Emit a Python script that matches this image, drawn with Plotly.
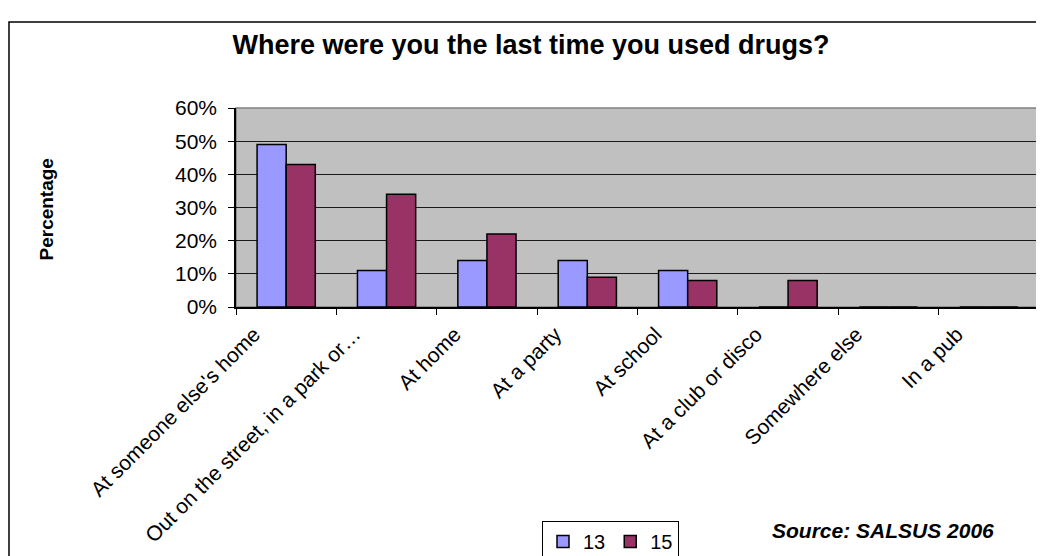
import plotly.graph_objects as go

categories = ["At someone else's home", "Out on the street, in a park or\u2026", "At home",
              "At a party", "At school", "At a club or disco", "Somewhere else", "In a pub"]
age13 = [49, 11, 14, 14, 11, 0, 0, 0]
age15 = [43, 34, 22, 9, 8, 8, 0, 0]
series_names = ["13", "15"]
y_ticks = [0, 10, 20, 30, 40, 50, 60]
y_tick_labels = [f"{v}%" for v in y_ticks]

# The page body adds an 8px margin, so the figure is sized to fit the window.
OFF = 8
W, H = 1044 - OFF, 556 - OFF
L, T = 236 - OFF, 108 - OFF
R = W - (1039 - OFF)
B = H - (307 - OFF)
pw, ph = W - L - R, H - T - B


def px(x):  # reference-screen x -> paper x
    return (x - OFF - L) / pw


def py(y):  # reference-screen y -> paper y
    return (H - B - (y - OFF)) / ph


FONT = "Liberation Sans, Arial, sans-serif"

fig = go.Figure()
fig.add_trace(go.Bar(x=categories, y=age13, name=series_names[0],
                     marker=dict(color="#9999FF", line=dict(color="black", width=1.5))))
fig.add_trace(go.Bar(x=categories, y=age15, name=series_names[1],
                     marker=dict(color="#993366", line=dict(color="black", width=1.5))))

fig.update_layout(
    width=W, height=H,
    margin=dict(l=L, r=R, t=T, b=B, autoexpand=False),
    paper_bgcolor="white", plot_bgcolor="#C0C0C0",
    barmode="group", bargap=0.42, bargroupgap=0,
    font=dict(family=FONT, size=20, color="black"),
    title=dict(text="<b>Where were you the last time you used drugs?</b>",
               x=(531 - OFF) / W, xanchor="center", y=1 - (45 - OFF) / H, yanchor="middle",
               xref="container", yref="container",
               font=dict(family=FONT, size=27, color="black")),
    legend=dict(orientation="h", x=px(542), y=py(521), xanchor="left", yanchor="top",
                bgcolor="white", bordercolor="black", borderwidth=1,
                itemwidth=30, tracegroupgap=0,
                font=dict(family=FONT, size=20, color="black")),
    xaxis=dict(type="category", tickangle=-45, showgrid=False,
               showline=True, linecolor="black", linewidth=1.5,
               ticks="outside", tickson="boundaries", ticklen=6, tickcolor="black",
               ticklabelshift=-32, ticklabelstandoff=5,
               tickfont=dict(family=FONT, size=21, color="black"),
               range=[-0.5, len(categories) - 0.5]),
    yaxis=dict(range=[0, 60], tickvals=y_ticks, ticktext=y_tick_labels,
               showgrid=True, gridcolor="#1a1a1a", gridwidth=1,
               showline=True, linecolor="black", linewidth=1.5,
               ticks="outside", ticklen=6, tickcolor="black",
               ticklabelstandoff=7, zeroline=False,
               tickfont=dict(family=FONT, size=21, color="black")),
    showlegend=True,
)

# grey plot border (top and right)
fig.add_shape(type="rect", xref="paper", yref="paper", x0=0, x1=1, y0=0, y1=1,
              line=dict(color="#808080", width=1.5), layer="below")
# outer chart border
fig.add_shape(type="rect", xref="paper", yref="paper",
              x0=px(9), x1=px(1070), y0=py(580), y1=py(22),
              line=dict(color="black", width=1.5))

fig.add_annotation(text="<b>Percentage</b>", xref="paper", yref="paper",
                   x=px(45.5), y=py(210), textangle=-90, showarrow=False,
                   xanchor="center", yanchor="middle",
                   font=dict(family=FONT, size=19, color="black"))
fig.add_annotation(text="<b><i>Source: SALSUS 2006</i></b>", xref="paper", yref="paper",
                   x=px(770), y=py(530), showarrow=False, xanchor="left", yanchor="middle",
                   font=dict(family=FONT, size=21, color="black"))

fig.write_html("out.html")
